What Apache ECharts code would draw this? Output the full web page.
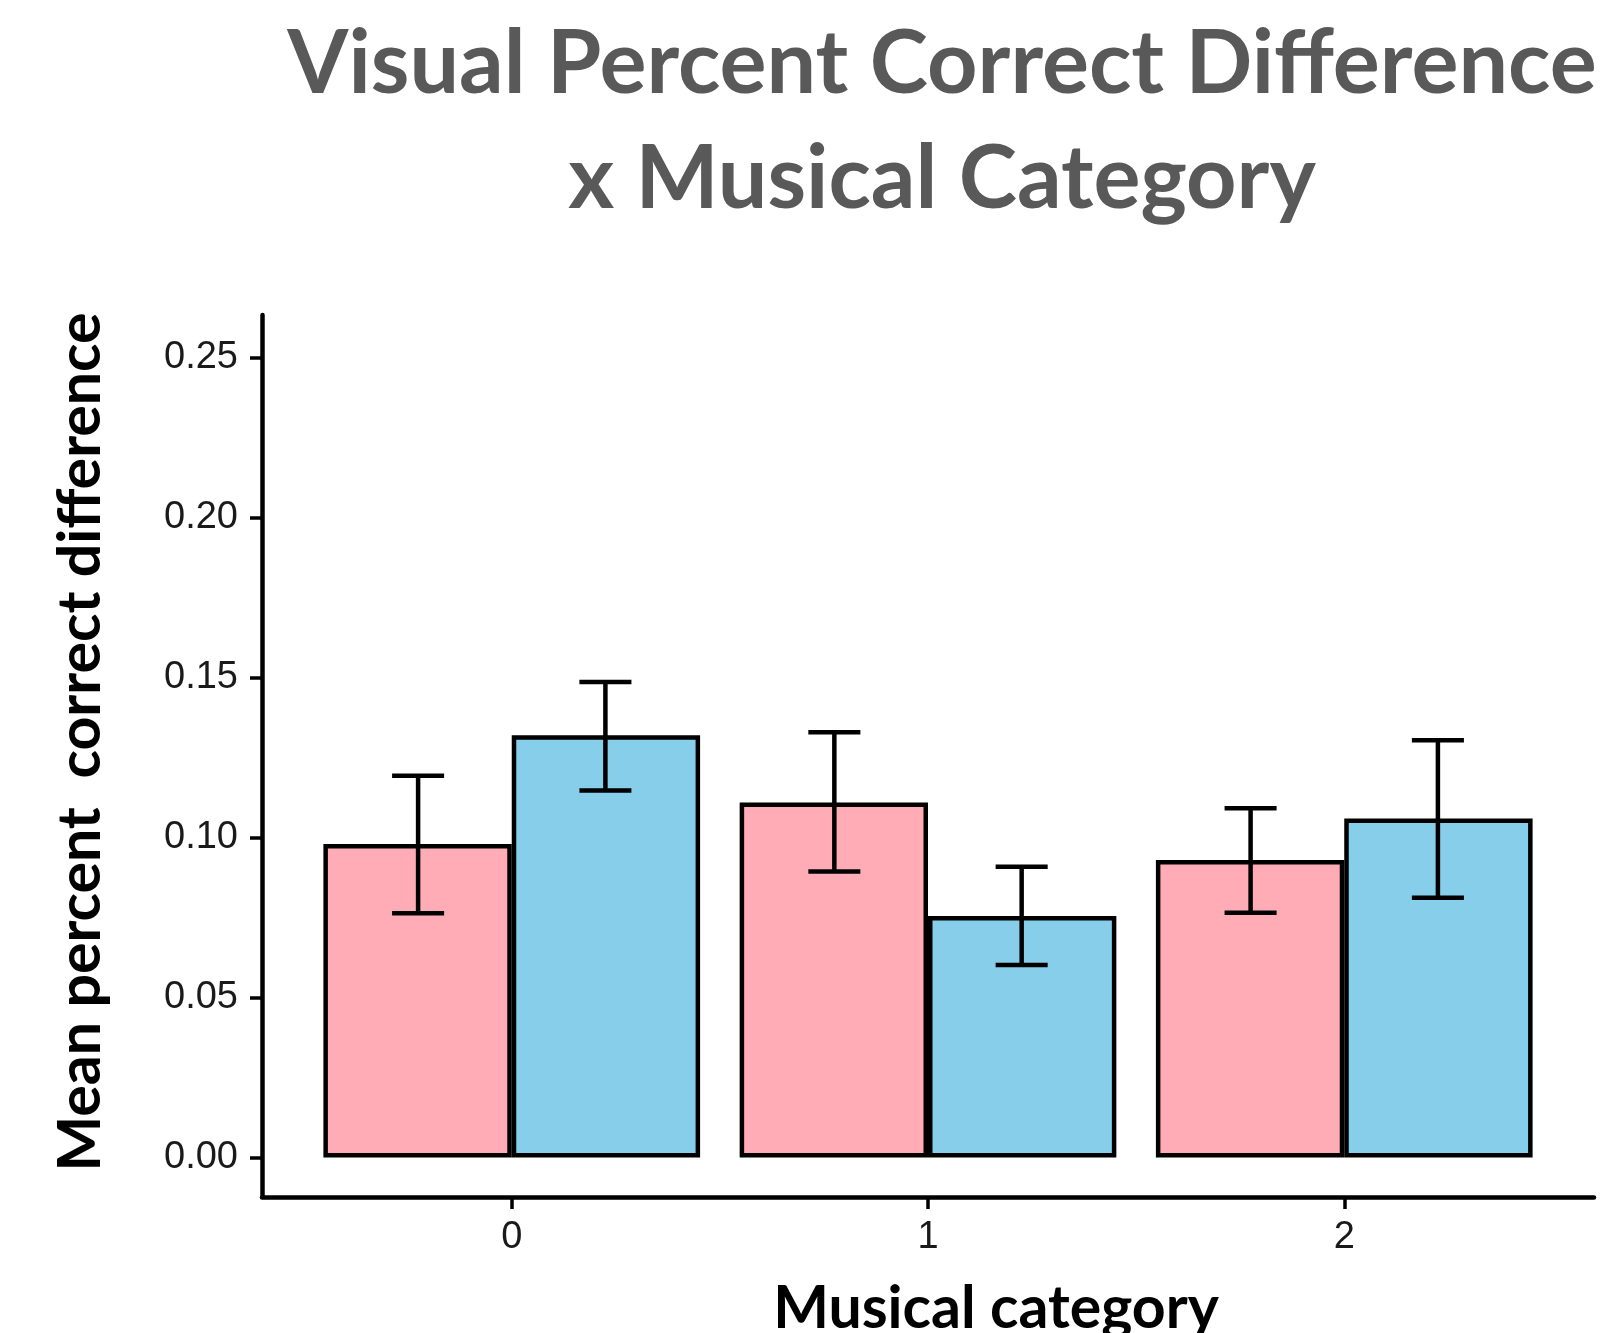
<!DOCTYPE html>
<html>
<head>
<meta charset="utf-8">
<title>Visual Percent Correct Difference x Musical Category</title>
<script src="https://cdn.jsdelivr.net/npm/echarts@6/dist/echarts.min.js"></script>
<style>
    html, body { margin: 0; padding: 0; background: #ffffff; }
    #main { width: 1613px; height: 1333px; }
</style>
</head>
<body>
<div id="main"></div>
<script>
//Musical categories on the x axis
let categories = ['0', '1', '2'];
//Y axis tick values
let yTicks = [0, 0.05, 0.10, 0.15, 0.20, 0.25];
//Mean values of the two groups (pink, blue)
let pinkMean = [0.098, 0.111, 0.093];
let blueMean = [0.132, 0.0755, 0.106];
//Error bar ends
let pinkLow = [0.0764, 0.0894, 0.0765];
let pinkHigh = [0.1194, 0.1330, 0.1092];
let blueLow = [0.1148, 0.0602, 0.0812];
let blueHigh = [0.1487, 0.0909, 0.1305];

function errorBarItem(params, api) {
    let x = api.value(0);
    let top = api.coord([x, api.value(2)]);
    let bottom = api.coord([x, api.value(1)]);
    let halfCap = api.size([0.125, 0])[0] / 2;
    let style = { stroke: '#000000', lineWidth: 4.5, fill: null };
    return {
        type: 'group',
        children: [
            { type: 'line', shape: { x1: top[0], y1: top[1], x2: bottom[0], y2: bottom[1] }, style: style },
            { type: 'line', shape: { x1: top[0] - halfCap, y1: top[1], x2: top[0] + halfCap, y2: top[1] }, style: style },
            { type: 'line', shape: { x1: bottom[0] - halfCap, y1: bottom[1], x2: bottom[0] + halfCap, y2: bottom[1] }, style: style }
        ]
    };
}

function drawChart() {
    let myChart = echarts.init(document.getElementById('main'));

    // bars sit at 0, 1, 2 on a value axis so the padding matches ggplot
    let pinkData = categories.map((c, i) => [i, pinkMean[i]]);
    let blueData = categories.map((c, i) => [i, blueMean[i]]);
    let pinkErr = categories.map((c, i) => [i - 0.225, pinkLow[i], pinkHigh[i]]);
    let blueErr = categories.map((c, i) => [i + 0.225, blueLow[i], blueHigh[i]]);
    let catIdx = categories.map((c, i) => i);

    let textFont = 'Lato';
    let option = {
        backgroundColor: '#ffffff',
        animation: false,
        grid: {
            left: 262,
            right: 19,
            top: 315,
            bottom: 136,
            containLabel: false,
            outerBoundsMode: 'none'
        },
        xAxis: {
            type: 'value',
            min: -0.6,
            max: 2.6,
            splitLine: { show: false },
            axisLine: { onZero: false, lineStyle: { color: '#000000', width: 4.5 } },
            axisTick: { show: true, length: 12, customValues: catIdx, lineStyle: { color: '#000000', width: 3.5 } },
            axisLabel: {
                customValues: catIdx,
                formatter: v => categories[Math.round(v)],
                margin: 22,
                fontFamily: 'Liberation Sans',
                fontSize: 38,
                color: '#1a1a1a'
            }
        },
        yAxis: {
            type: 'value',
            min: -0.01235,
            max: 0.26345,
            splitLine: { show: false },
            axisLine: { onZero: false, lineStyle: { color: '#000000', width: 4.5 } },
            axisTick: { show: true, length: 12, customValues: yTicks, lineStyle: { color: '#000000', width: 3.5 } },
            axisLabel: {
                customValues: yTicks,
                formatter: v => v.toFixed(2),
                margin: 24,
                fontFamily: 'Liberation Sans',
                fontSize: 38,
                color: '#1a1a1a'
            }
        },
        graphic: [
            {
                type: 'text', x: 942, y: 65,
                style: { text: 'Visual Percent Correct Difference', fill: '#595959', font: 'bold 88px ' + textFont, textAlign: 'center', textVerticalAlign: 'middle' }
            },
            {
                type: 'text', x: 942, y: 180,
                style: { text: 'x Musical Category', fill: '#595959', font: 'bold 88px ' + textFont, textAlign: 'center', textVerticalAlign: 'middle' }
            },
            {
                type: 'text', x: 81, y: 742, rotation: Math.PI / 2,
                style: { text: 'Mean percent  correct difference', fill: '#000000', font: 'bold 59px ' + textFont, textAlign: 'center', textVerticalAlign: 'middle' }
            },
            {
                type: 'text', x: 996, y: 1309,
                style: { text: 'Musical category', fill: '#000000', font: 'bold 59px ' + textFont, textAlign: 'center', textVerticalAlign: 'middle' }
            }
        ],
        series: [
            {
                name: 'pink',
                type: 'bar',
                data: pinkData,
                barGap: '0%',
                barCategoryGap: '9.5%',
                itemStyle: { color: '#FFACB7', borderColor: '#000000', borderWidth: 4.5 },
                z: 2
            },
            {
                name: 'blue',
                type: 'bar',
                data: blueData,
                barGap: '0%',
                barCategoryGap: '9.5%',
                itemStyle: { color: '#87CEEB', borderColor: '#000000', borderWidth: 4.5 },
                z: 2
            },
            {
                name: 'pinkErr',
                type: 'custom',
                renderItem: errorBarItem,
                encode: { x: 0, y: [1, 2] },
                data: pinkErr,
                z: 5
            },
            {
                name: 'blueErr',
                type: 'custom',
                renderItem: errorBarItem,
                encode: { x: 0, y: [1, 2] },
                data: blueErr,
                z: 5
            }
        ]
    };
    myChart.setOption(option);
}

drawChart();
</script>
</body>
</html>
